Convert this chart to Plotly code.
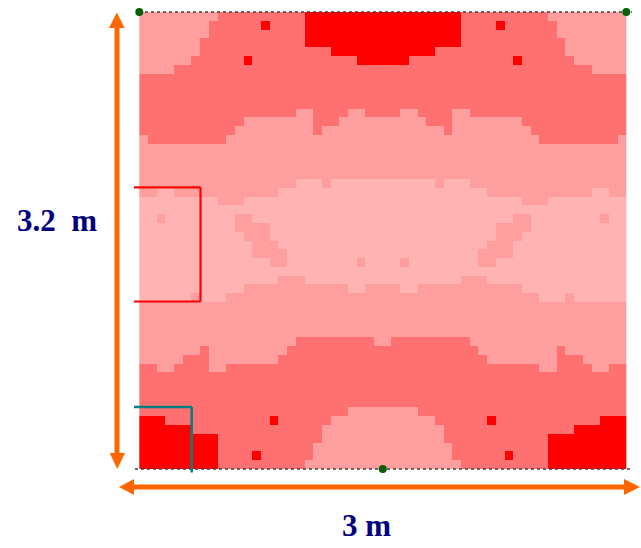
import plotly.graph_objects as go

W, H = 641, 548
LEFT, RIGHT, TOP, BOTTOM = 139.3, 626.3, 12.0, 469.0
ROOM_W, ROOM_H = 3.0, 3.2
N_COLS, N_ROWS = 56, 52

# Illuminance class per cell, top row first (0 lightest ... 3 red)
ROWS = [
    "111111111 2222222222 333333333 333333333 2222222222 111111111",
    "11111111 222222 3 2222 333333333 333333333 2222 3 222222 11111111",
    "11111111 22222222222 333333333 333333333 22222222222 11111111",
    "1111111 222222222222 333333333 333333333 222222222222 1111111",
    "1111111 222222222222222 333333 333333 222222222222222 1111111",
    "111111 222222 3 222222222222 333 333 222222222222 3 222222 111111",
    "1111 2222222222 22222222222222 22222222222222 2222222222 1111",
    "22222222222222 22222222222222 22222222222222 22222222222222",
    "22222222222222 22222222222222 22222222222222 22222222222222",
    "22222222222222 22222222222222 22222222222222 22222222222222",
    "22222222222222 22222222222222 22222222222222 22222222222222",
    "222222222222222222 11 2222 11 22 22 11 2222 11 222222222222222222",
    "222222222222 11111111 222 11111 11111 222 11111111 222222222222",
    "22222222222 111111111 2 1111111 1111111 2 111111111 22222222222",
    "1 222222222 11111111 1111111111 1111111111 11111111 222222222 1",
    "11111111111111 11111111111111 11111111111111 11111111111111",
    "11111111111111 11111111111111 11111111111111 11111111111111",
    "11111111111111 11111111111111 11111111111111 11111111111111",
    "11111111111111 11111111111111 11111111111111 11111111111111",
    "111111111111111111 000 1 000000 000000 1 000 111111111111111111",
    "11 00 111111111111 000000000000 000000000000 111111111111 00 11",
    "000000000 111 0000000000000000 0000000000000000 111 000000000",
    "00000000000000 00000000000000 00000000000000 00000000000000",
    "00 1 00000000 11 000000000000000 000000000000000 11 00000000 1 00",
    "00000000000 1111 0000000000000 0000000000000 1111 00000000000",
    "000000000000 111 0000000000000 0000000000000 111 000000000000",
    "0000000000000 111 000000000000 000000000000 111 0000000000000",
    "0000000000000 1111 00000000000 00000000000 1111 0000000000000",
    "000000000000000 11 00000000 1 00 00 1 00000000 11 000000000000000",
    "00000000000000 00000000000000 00000000000000 00000000000000",
    "0000000000000000 111 000000000 000000000 111 0000000000000000",
    "000000000000 111111111111 00 11 11 00 111111111111 000000000000",
    "000000 1 000 111111111111111111 111111111111111111 000 1 000000",
    "11111111111111 11111111111111 11111111111111 11111111111111",
    "11111111111111 11111111111111 11111111111111 11111111111111",
    "11111111111111 11111111111111 11111111111111 11111111111111",
    "11111111111111 11111111111111 11111111111111 11111111111111",
    "111111111111111111 222222222 1 1 222222222 111111111111111111",
    "1111111 2 111111111 22222222222 22222222222 111111111 2 1111111",
    "11111 222 11111111 222222222222 222222222222 11111111 222 11111",
    "22 11 2222 11 222222222222222222 222222222222222222 11 2222 11 22",
    "22222222222222 22222222222222 22222222222222 22222222222222",
    "22222222222222 22222222222222 22222222222222 22222222222222",
    "22222222222222 22222222222222 22222222222222 22222222222222",
    "22222222222222 22222222222222 22222222222222 22222222222222",
    "222222222222222222222222 1111 1111 222222222222222222222222",
    "333 222222222222 3 222222 111111 111111 222222 3 222222222222 333",
    "333333 222222222222222 1111111 1111111 222222222222222 333333",
    "333333333 222222222222 1111111 1111111 222222222222 333333333",
    "333333333 22222222222 11111111 11111111 22222222222 333333333",
    "333333333 2222 3 222222 11111111 11111111 222222 3 2222 333333333",
    "333333333 2222222222 111111111 111111111 2222222222 333333333",
]
LEVEL_COLORS = ["#FFB3B3", "#FF9E9E", "#FF7070", "#FF0000"]

# Lighting measurement points on the room outline (metres)
POINTS_X = [0.0, 3.0, 1.5]
POINTS_Y = [3.2, 3.2, 0.0]

WIDTH_LABEL = "3 m"
HEIGHT_LABEL = "3.2  m"

z = [[int(c) for c in "".join(r.split())] for r in ROWS]
assert len(z) == N_ROWS and all(len(r) == N_COLS for r in z), [len(r) for r in z]

x_c = [(i + 0.5) * ROOM_W / N_COLS for i in range(N_COLS)]
y_c = [ROOM_H - (j + 0.5) * ROOM_H / N_ROWS for j in range(N_ROWS)]


def xm(px):
    return (px - LEFT) * ROOM_W / (RIGHT - LEFT)


def ym(py):
    return (BOTTOM - py) * ROOM_H / (BOTTOM - TOP)


fig = go.Figure()
fig.add_trace(go.Heatmap(x=x_c, y=y_c, z=z, zmin=0, zmax=3, zauto=False,
                         colorscale=[[0, LEVEL_COLORS[0]], [0.1666, LEVEL_COLORS[0]],
                                     [0.1667, LEVEL_COLORS[1]], [0.5, LEVEL_COLORS[1]],
                                     [0.5001, LEVEL_COLORS[2]], [0.8333, LEVEL_COLORS[2]],
                                     [0.8334, LEVEL_COLORS[3]], [1, LEVEL_COLORS[3]]],
                         showscale=False, hoverinfo="skip", zsmooth=False))


def line(x0, y0, x1, y1, color, width, dash="solid"):
    return dict(type="line", xref="x", yref="y", x0=xm(x0), y0=ym(y0), x1=xm(x1), y1=ym(y1),
                line=dict(color=color, width=width, dash=dash), layer="above")


def poly(points, color):
    path = "M " + " L ".join(f"{xm(a):.5f},{ym(b):.5f}" for a, b in points) + " Z"
    return dict(type="path", xref="x", yref="y", path=path, fillcolor=color,
                line=dict(width=0), layer="above")


ORANGE = "#FF6600"
shapes = [
    # dashed outline top and bottom
    line(139, TOP, 632, TOP, "#404040", 1.3, "3px,3px"),
    line(135, BOTTOM, 633, BOTTOM, "#404040", 1.3, "3px,3px"),
    # red window outline
    line(134, 187.3, 200.5, 187.3, "#FF0000", 2.2),
    line(200.5, 187.3, 200.5, 301.5, "#FF0000", 2.2),
    line(134, 301.5, 200.5, 301.5, "#FF0000", 2.2),
    # teal door outline
    line(134, 407, 191.7, 407, "#008080", 2.5),
    line(191.7, 407, 191.7, 472.5, "#008080", 2.5),
    # vertical double arrow
    poly([(114.5, 28), (109, 28), (116.8, 12.5), (124.6, 28), (119.5, 28),
          (119.5, 453), (125, 453), (117.3, 469), (109.7, 453), (114.5, 453)], ORANGE),
    # horizontal double arrow
    poly([(134, 484.5), (134, 479), (119, 487), (134, 495), (134, 489.5),
          (624, 489.5), (624, 495), (640, 487), (624, 479), (624, 484.5)], ORANGE),
]

fig.add_trace(go.Scatter(x=POINTS_X, y=POINTS_Y, mode="markers", hoverinfo="skip",
                         cliponaxis=False,
                         marker=dict(symbol="circle", size=8, color="#006400",
                                     line=dict(width=0))))

annotations = [
    dict(x=xm(57), y=ym(220), xref="x", yref="y", text=f"<b>{HEIGHT_LABEL.replace('  ', '&nbsp; ')}</b>",
         showarrow=False, xanchor="center", yanchor="middle",
         font=dict(family="Liberation Serif", size=31, color="#000080")),
    dict(x=xm(366), y=ym(525), xref="x", yref="y", text=f"<b>{WIDTH_LABEL}</b>",
         showarrow=False, xanchor="center", yanchor="middle",
         font=dict(family="Liberation Serif", size=31, color="#000080")),
]

fig.update_layout(
    width=W, height=H, margin=dict(l=0, r=0, t=0, b=0),
    paper_bgcolor="white", plot_bgcolor="white", showlegend=False,
    xaxis=dict(visible=False, range=[xm(0), xm(W)], domain=[0, 1], fixedrange=True),
    yaxis=dict(visible=False, range=[ym(H), ym(0)], domain=[0, 1], fixedrange=True),
    shapes=shapes, annotations=annotations,
)

fig.write_html("out.html", config={"displayModeBar": False},
               post_script="document.documentElement.style.overflow='hidden';document.body.style.margin='0';")
